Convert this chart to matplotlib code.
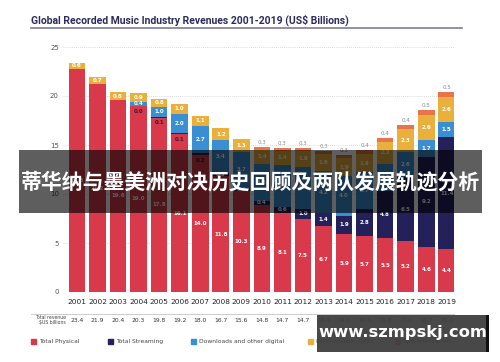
import numpy as np
import matplotlib
matplotlib.use("Agg")
import matplotlib.pyplot as plt
from matplotlib.patches import Rectangle
from matplotlib.lines import Line2D
from matplotlib import transforms

# values (US$ billions)
years = ["2001", "2002", "2003", "2004", "2005", "2006", "2007", "2008", "2009", "2010",
         "2011", "2012", "2013", "2014", "2015", "2016", "2017", "2018", "2019"]
physical = [22.8, 21.2, 19.6, 19.0, 17.8, 16.1, 14.0, 11.8, 10.3, 8.9,
            8.1, 7.5, 6.7, 5.9, 5.7, 5.5, 5.2, 4.6, 4.4]
streaming = [np.nan, np.nan, np.nan, 0.0, 0.1, 0.1, 0.2, 0.3, 0.3, 0.4,
             0.6, 1.0, 1.4, 1.9, 2.8, 4.8, 6.5, 9.2, 11.4]
downloads = [np.nan, np.nan, np.nan, 0.4, 1.0, 2.0, 2.7, 3.4, 3.7, 3.8,
             4.3, 4.3, 4.2, 4.0, 3.7, 2.8, 2.6, 1.7, 1.5]
perf_rights = [0.6, 0.7, 0.8, 0.9, 0.8, 1.0, 1.1, 1.2, 1.3, 1.4,
               1.4, 1.6, 1.8, 1.9, 1.9, 2.2, 2.3, 2.6, 2.6]
sync = [np.nan] * 9 + [0.3, 0.3, 0.3, 0.3, 0.3, 0.4, 0.4, 0.4, 0.5, 0.5]
totals = [23.4, 21.9, 20.4, 20.3, 19.8, 19.2, 18.0, 16.7, 15.6, 14.8,
          14.7, 14.7, 14.4, 14.0, 14.5, 15.8, 17.0, 18.7, 20.2]

series = [("Total Physical", physical, "#d93a4b"),
          ("Total Streaming", streaming, "#24205a"),
          ("Downloads and other digital", downloads, "#3a8ed2"),
          ("Performance rights", perf_rights, "#e9b13c"),
          ("Synchronisation", sync, "#e8744b")]

W, H = 500, 362
fig = plt.figure(figsize=(5, 3.62), dpi=100)
ax = fig.add_axes([63 / W, 70 / H, (454 - 63) / W, 245 / H])
x = np.arange(len(years))

bottom = np.zeros(len(years))
for k, (name, vals, col) in enumerate(series):
    v = np.array(vals, dtype=float)
    h = np.nan_to_num(v)
    ax.bar(x, h, 0.81, bottom=bottom, color=col, zorder=2)
    for i in range(len(years)):
        if np.isnan(v[i]):
            continue
        lab = "%.1f" % v[i]
        if k == 4:
            ax.text(i, bottom[i] + h[i] + 0.45, lab, ha="center", va="center",
                    fontsize=4, color="#8a8a8a", zorder=3)
        elif k == 1 and v[i] < 0.25:
            ax.text(i, bottom[i] - 0.55, lab, ha="center", va="center",
                    fontsize=4, color="#3a1632", zorder=3, weight="bold")
        else:
            ax.text(i, bottom[i] + h[i] / 2, lab, ha="center", va="center",
                    fontsize=4, color="white", zorder=3, weight="bold")
    bottom += h

ax.set_xlim(-0.68, 18.35)
ax.set_ylim(0, 25)
ax.set_yticks([0, 5, 10, 15, 20, 25])
ax.set_xticks(x)
ax.set_xticklabels(years)
ax.tick_params(axis="y", length=0, pad=3, labelsize=5, labelcolor="#555555")
ax.tick_params(axis="x", length=0, pad=5, labelsize=5.3, labelcolor="#222222")
ax.yaxis.grid(True, linestyle=(0, (1, 1.5)), color="#cfcfcf", linewidth=0.6, zorder=0)
ax.set_axisbelow(True)
for s in ax.spines.values():
    s.set_visible(False)

# title and rule
fig.text(31 / W, 1 - 20 / H, "Global Recorded Music Industry Revenues 2001-2019 (US$ Billions)",
         fontsize=7.5, weight="bold", color="#2b2b5e", family="Roboto", va="center")
fig.add_artist(Line2D([31 / W, 462 / W], [1 - 28 / H, 1 - 28 / H], color="#7d7d9c", linewidth=1.2))

# total revenue row
fig.add_artist(Line2D([31 / W, 454 / W], [1 - 314 / H, 1 - 314 / H], color="#cccccc", linewidth=0.7))
fig.text(66 / W, 1 - 320 / H, "Total revenue\n$US billions", ha="right", va="center",
         fontsize=3.3, color="#444444", linespacing=1.0)
tr = transforms.blended_transform_factory(ax.transData, fig.transFigure)
for i, t in enumerate(totals):
    ax.text(i, 1 - 321 / H, "%.1f" % t, transform=tr, ha="center", va="center",
            fontsize=4.3, color="#333333", clip_on=False)

# legend
leg_x = [31, 108, 191, 308, 395]
for (name, vals, col), lx in zip(series, leg_x):
    fig.add_artist(Rectangle((lx / W, 1 - 344 / H), 5 / W, 5 / H, color=col))
    fig.text((lx + 8) / W, 1 - 341.5 / H, name, fontsize=4.3, color="#444444", va="center")

# overlay banner
fig.add_artist(Rectangle((19 / W, 1 - 213 / H), 463 / W, 63 / H, facecolor="black",
                         alpha=0.63, edgecolor="none", zorder=10))
fig.text(250 / W, 1 - 182 / H, "蒂华纳与墨美洲对决历史回顾及两队发展轨迹分析", ha="center", va="center",
         fontsize=15, weight="bold", color="white", family=["Noto Sans CJK SC", "DejaVu Sans"],
         zorder=11)

# watermark
fig.add_artist(Rectangle((317 / W, 1 - 352 / H), 172 / W, 37 / H, facecolor="#3e3e3e",
                         alpha=0.95, edgecolor="none", zorder=10))
fig.add_artist(Rectangle((486 / W, 1 - 352 / H), 3 / W, 37 / H, facecolor="#111111",
                         edgecolor="none", zorder=10))
fig.text(403 / W, 1 - 333 / H, "www.szmpskj.com", ha="center", va="center",
         fontsize=11.8, weight="bold", color="white", zorder=11)

fig.savefig("out.png", dpi=100)
